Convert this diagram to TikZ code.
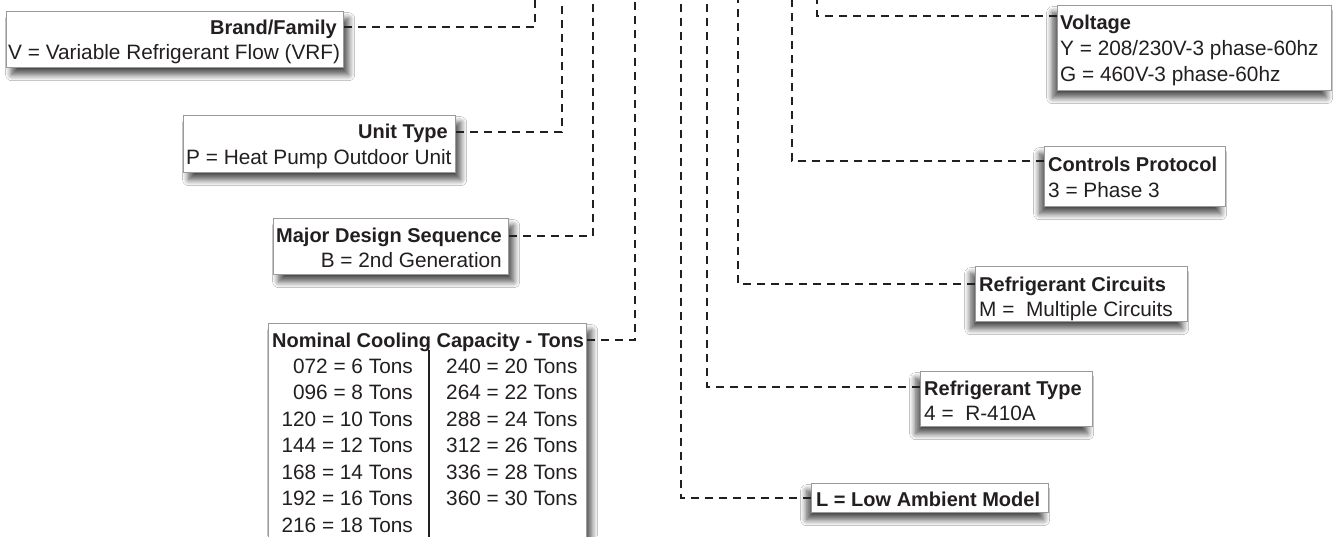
\documentclass[tikz,border=0pt]{standalone}
\usepackage{fontspec}
\setmainfont{Liberation Sans}
\usetikzlibrary{shadows.blur}
\definecolor{txt}{HTML}{231F20}
\definecolor{edge}{HTML}{9A9A9A}
\tikzset{
  box/.style={draw=edge, line width=1.3pt, fill=white, inner sep=0pt, anchor=north west},
  shR/.style={blur shadow={shadow xshift=5pt, shadow yshift=-7pt, shadow blur steps=12, shadow blur radius=6pt, shadow opacity=70}},
  shL/.style={blur shadow={shadow xshift=-5pt, shadow yshift=-7pt, shadow blur steps=12, shadow blur radius=6pt, shadow opacity=70}},
  conn/.style={draw=txt, line width=2.7pt, dash pattern=on 8pt off 6pt},
  tl/.style={inner sep=0pt, text=txt, font=\fontsize{20.8}{24}\selectfont},
  tt/.style={inner sep=0pt, text=txt, font=\fontsize{20}{24}\selectfont\bfseries},
}
\begin{document}
\begin{tikzpicture}[x=1pt, y=-1pt]
\useasboundingbox (0,0) rectangle (1340,536);
\fill[white] (0,0) rectangle (1340,536);

% boxes
\node[box, shR, minimum width=337pt, minimum height=56pt] (brand) at (6,11) {};
\node[box, shR, minimum width=272pt, minimum height=57pt] (unit) at (183,115) {};
\node[box, shR, minimum width=235pt, minimum height=56pt] (major) at (273,218) {};
\node[box, shR, minimum width=318pt, minimum height=240pt] (nominal) at (268,323) {};
\node[box, shL, minimum width=274pt, minimum height=85pt] (voltage) at (1057,5) {};
\node[box, shL, minimum width=181pt, minimum height=60pt] (controls) at (1044,146) {};
\node[box, shL, minimum width=212pt, minimum height=55pt] (circuits) at (975,266) {};
\node[box, shL, minimum width=172pt, minimum height=55pt] (reftype) at (920,371) {};
\node[box, shL, minimum width=237pt, minimum height=29pt] (lamb) at (811,483) {};

% texts
\node[tt, anchor=base east] (brandT) at (337,34) {Brand/Family};
\node[tl, anchor=base west] (brandB) at (8,59) {V = Variable Refrigerant Flow (VRF)};
\node[tt, anchor=base east] (unitT) at (448,138) {Unit Type};
\node[tl, anchor=base west] (unitB) at (186,164) {P = Heat Pump Outdoor Unit};
\node[tt, anchor=base east] (majorT) at (502,242) {Major Design Sequence};
\node[tl, anchor=base east] (majorB) at (502,267) {B = 2nd Generation};
\node[tt, anchor=base west] (nomT) at (272,347) {Nominal Cooling Capacity - Tons};
\foreach \a [count=\i from 0] in {072 = 6 Tons, 096 = 8 Tons, 120 = 10 Tons, 144 = 12 Tons, 168 = 14 Tons, 192 = 16 Tons, 216 = 18 Tons}
  \node[tl, anchor=base east] (nomL\i) at (413,373+26.5*\i) {\a};
\foreach \a [count=\i from 0] in {240 = 20 Tons, 264 = 22 Tons, 288 = 24 Tons, 312 = 26 Tons, 336 = 28 Tons, 360 = 30 Tons}
  \node[tl, anchor=base west] (nomR\i) at (446,373+26.5*\i) {\a};
\coordinate (divT) at (429,350);
\coordinate (divB) at (429,540);
\draw[txt, line width=1.3pt] (divT) -- (divB);
\node[tt, anchor=base west] (voltT) at (1060,29) {Voltage};
\node[tl, anchor=base west] (voltB1) at (1060,55) {Y = 208/230V-3 phase-60hz};
\node[tl, anchor=base west] (voltB2) at (1060,81) {G = 460V-3 phase-60hz};
\node[tt, anchor=base west] (ctrlT) at (1048,171) {Controls Protocol};
\node[tl, anchor=base west] (ctrlB) at (1048,197) {3 = Phase 3};
\node[tt, anchor=base west] (circT) at (979,291) {Refrigerant Circuits};
\node[tl, anchor=base west] (circB) at (979,316) {M =~ Multiple Circuits};
\node[tt, anchor=base west] (typeT) at (924,395) {Refrigerant Type};
\node[tl, anchor=base west] (typeB) at (924,420) {4 =~ R-410A};
\node[tt, anchor=base west] (lambT) at (816,506) {L = Low Ambient Model};

% connector junctions
\coordinate (jBrand) at (535,27);   \coordinate (tBrand) at (535,0);
\coordinate (jUnit) at (562,132);   \coordinate (tUnit) at (562,0);
\coordinate (jMajor) at (593,236);  \coordinate (tMajor) at (593,0);
\coordinate (jNom) at (635,340);    \coordinate (tNom) at (635,0);
\coordinate (jL) at (681,498);      \coordinate (tL) at (681,0);
\coordinate (jType) at (707,387);   \coordinate (tType) at (707,0);
\coordinate (jCirc) at (738,284);   \coordinate (tCirc) at (738,0);
\coordinate (jCtrl) at (792,161);   \coordinate (tCtrl) at (792,0);
\coordinate (jVolt) at (817,16);    \coordinate (tVolt) at (817,0);

\draw[conn] (brand.east |- jBrand) -- (jBrand) -- (tBrand);
\draw[conn] (unit.east |- jUnit) -- (jUnit) -- (tUnit);
\draw[conn] (major.east |- jMajor) -- (jMajor) -- (tMajor);
\draw[conn] (nominal.east |- jNom) -- (jNom) -- (tNom);
\draw[conn] (lamb.west |- jL) -- (jL) -- (tL);
\draw[conn] (reftype.west |- jType) -- (jType) -- (tType);
\draw[conn] (circuits.west |- jCirc) -- (jCirc) -- (tCirc);
\draw[conn] (controls.west |- jCtrl) -- (jCtrl) -- (tCtrl);
\draw[conn] (voltage.west |- jVolt) -- (jVolt) -- (tVolt);
\end{tikzpicture}
\end{document}
